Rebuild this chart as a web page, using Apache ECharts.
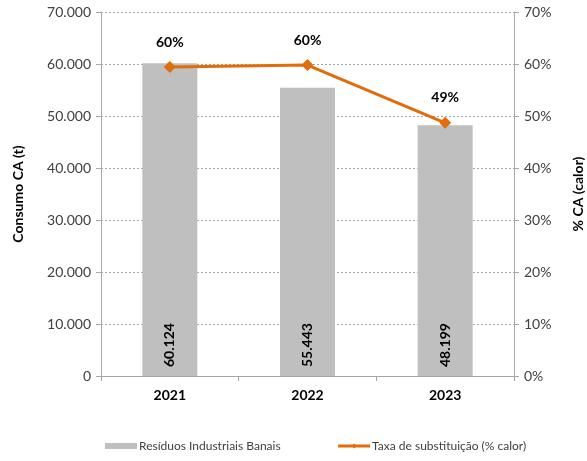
<!DOCTYPE html>
<html><head><meta charset="utf-8">
<script src="https://cdn.jsdelivr.net/npm/echarts@6/dist/echarts.min.js"></script>
<style>html,body{margin:0;padding:0;background:#fff}#c{width:587px;height:461px}</style>
</head><body><div id="c"></div>
<script>
const categories = ['2021', '2022', '2023'];
const residuos = [60124, 55443, 48199];
const taxa = [59.4, 59.8, 48.7];
const taxaLabels = ['60%', '60%', '49%'];
const leftTicks = [0, 10000, 20000, 30000, 40000, 50000, 60000, 70000];
const rightTicks = [0, 10, 20, 30, 40, 50, 60, 70];

const FONT = 'Lato, "Open Sans", sans-serif';
const fmtThousands = v => String(Math.round(v)).replace(/\B(?=(\d{3})+(?!\d))/g, '.');

const chart = echarts.init(document.getElementById('c'), null, {renderer: 'canvas'});
chart.setOption({
  animation: false,
  textStyle: {fontFamily: FONT},
  grid: {left: 101, right: 73, top: 12, bottom: 85, containLabel: false, outerBoundsMode: 'none'},
  legend: {
    bottom: 4, left: 100, itemGap: 56,
    textStyle: {fontFamily: FONT, fontSize: 12, color: '#404040', padding: [0, 0, 0, -3]},
    itemWidth: 32, itemHeight: 6,
    data: [
      {name: 'Resíduos Industriais Banais', icon: 'rect'},
      {name: 'Taxa de substituição (% calor)', lineStyle: {width: 3}}
    ]
  },
  xAxis: {
    type: 'category', data: categories,
    axisLine: {lineStyle: {color: '#a6a6a6', width: 1}},
    axisTick: {show: true, alignWithLabel: false, length: 5, lineStyle: {color: '#a6a6a6'}},
    axisLabel: {fontFamily: FONT, fontWeight: 'bold', fontSize: 14, color: '#000', margin: 12}
  },
  yAxis: [{
    type: 'value', min: 0, max: leftTicks[leftTicks.length - 1], interval: leftTicks[1] - leftTicks[0],
    name: 'Consumo CA (t)', nameLocation: 'middle', nameGap: 76, nameRotate: 90,
    nameTextStyle: {fontFamily: FONT, fontWeight: 'bold', fontSize: 14, color: '#000'},
    axisLine: {show: true, lineStyle: {color: '#a6a6a6'}},
    axisTick: {show: true, length: 5, lineStyle: {color: '#a6a6a6'}},
    axisLabel: {fontFamily: FONT, fontSize: 14, color: '#404040', margin: 10, formatter: fmtThousands},
    splitLine: {show: true, lineStyle: {color: '#a6a6a6', type: [2, 2], width: 1}}
  }, {
    type: 'value', min: 0, max: rightTicks[rightTicks.length - 1], interval: rightTicks[1] - rightTicks[0],
    position: 'right',
    name: '% CA (calor)', nameLocation: 'middle', nameGap: 57, nameRotate: 90,
    nameTextStyle: {fontFamily: FONT, fontWeight: 'bold', fontSize: 14, color: '#000'},
    axisLine: {show: true, lineStyle: {color: '#a6a6a6'}},
    axisTick: {show: true, length: 5, lineStyle: {color: '#a6a6a6'}},
    axisLabel: {fontFamily: FONT, fontSize: 14, color: '#404040', margin: 10, formatter: v => v + '%'},
    splitLine: {show: false}
  }],
  series: [{
    name: 'Resíduos Industriais Banais', type: 'bar', data: residuos, barWidth: 55,
    itemStyle: {color: '#bfbfbf'},
    label: {
      show: true, position: 'insideBottom', rotate: 90, align: 'left', verticalAlign: 'middle',
      distance: 9, fontFamily: FONT, fontWeight: 'bold', fontSize: 14, color: '#000',
      formatter: p => fmtThousands(p.value)
    }
  }, {
    name: 'Taxa de substituição (% calor)', type: 'line', yAxisIndex: 1, data: taxa,
    symbol: 'diamond', symbolSize: 12,
    lineStyle: {color: '#e36c0a', width: 3},
    itemStyle: {color: '#e36c0a'},
    label: {
      show: true, position: 'top', distance: 12, fontFamily: FONT, fontWeight: 'bold', fontSize: 14, color: '#000',
      formatter: p => taxaLabels[p.dataIndex]
    }
  }]
});
</script></body></html>
